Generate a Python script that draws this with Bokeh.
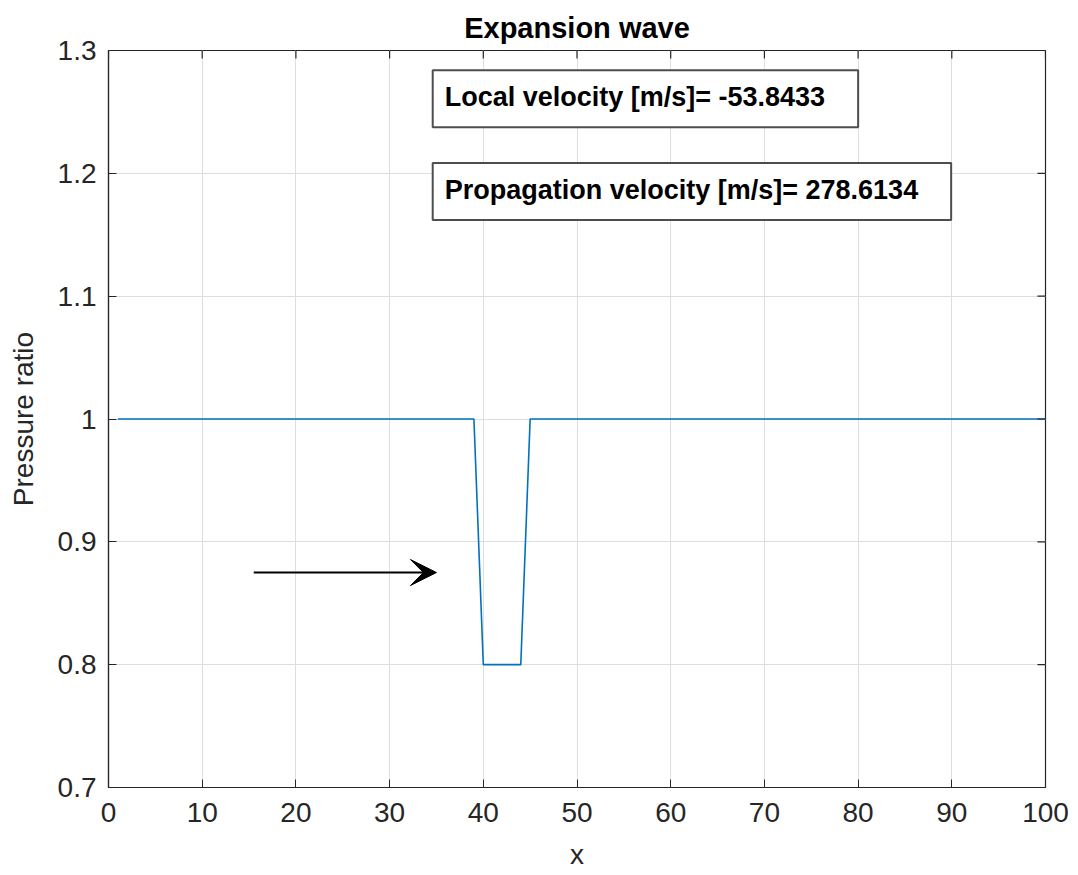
from bokeh.plotting import figure
from bokeh.models import (Range1d, Label, Arrow, VeeHead,
                          FixedTicker, ColumnDataSource)
from bokeh.embed import file_html
from bokeh.resources import INLINE

# ---- data ----
x_vals = [1, 39, 40, 44, 45, 100]
pressure_ratio = [1.0, 1.0, 0.8, 0.8, 1.0, 1.0]
x_ticks = [0, 10, 20, 30, 40, 50, 60, 70, 80, 90, 100]
y_ticks = [0.7, 0.8, 0.9, 1.0, 1.1, 1.2, 1.3]
y_tick_labels = ["0.7", "0.8", "0.9", "1", "1.1", "1.2", "1.3"]
arrow_x = [15.5, 35.0]
arrow_y = 0.875
local_velocity = -53.8433
propagation_velocity = 278.6134
box_x = 34.6
box_y = [1.284, 1.2085]

FONT = "Liberation Sans"
AX = "#262626"
X0, X1 = x_ticks[0], x_ticks[-1]
Y0, Y1 = y_ticks[0], y_ticks[-1]

p = figure(width=1078, height=875, output_backend="svg", toolbar_location=None,
           x_range=Range1d(X0, X1), y_range=Range1d(Y0, Y1),
           min_border_left=108, min_border_right=33, min_border_top=50,
           min_border_bottom=88, x_axis_label="x", y_axis_label="Pressure ratio")
p.outline_line_color = AX
p.outline_line_width = 1.2
p.background_fill_color = "white"
p.border_fill_color = "white"

p.title.text = "Expansion wave"
p.title.align = "center"
p.title.text_font = FONT
p.title.text_font_size = "29px"
p.title.text_font_style = "bold"
p.title.text_color = "black"
p.title.offset = 0
p.title.standoff = 13

p.xgrid.ticker = FixedTicker(ticks=x_ticks)
p.ygrid.ticker = FixedTicker(ticks=y_ticks)
p.grid.grid_line_color = "#dedede"
p.grid.grid_line_width = 1

src = ColumnDataSource(dict(x=x_vals, y=pressure_ratio))
p.line("x", "y", source=src, line_color="#0072BD", line_width=1.6)


def style_axis(ax):
    ax.axis_line_color = AX
    ax.axis_line_width = 1.2
    ax.major_tick_line_color = AX
    ax.major_tick_in = 8
    ax.major_tick_out = 0
    ax.minor_tick_line_color = None
    ax.major_label_text_font = FONT
    ax.major_label_text_font_size = "28px"
    ax.major_label_text_color = AX
    ax.axis_label_text_font = FONT
    ax.axis_label_text_font_size = "28px"
    ax.axis_label_text_font_style = "normal"
    ax.axis_label_text_color = AX


xax = p.xaxis[0]
yax = p.yaxis[0]
xax.ticker = FixedTicker(ticks=x_ticks)
yax.ticker = FixedTicker(ticks=y_ticks)
yax.major_label_overrides = {v: s for v, s in zip(y_ticks, y_tick_labels)}
style_axis(xax)
style_axis(yax)
xax.major_label_standoff = 15
yax.major_label_standoff = 12
xax.axis_label_standoff = 14
yax.axis_label_standoff = 16

# inward ticks on the top and right edges of the box
tick_len_x = 8 / 937 * (X1 - X0)
tick_len_y = 8 / 737 * (Y1 - Y0)
p.segment(x0=x_ticks, y0=[Y1] * len(x_ticks), x1=x_ticks,
          y1=[Y1 - tick_len_y] * len(x_ticks), line_color=AX, line_width=1.2)
p.segment(x0=[X1] * len(y_ticks), y0=y_ticks, x1=[X1 - tick_len_x] * len(y_ticks),
          y1=y_ticks, line_color=AX, line_width=1.2)

p.add_layout(Arrow(end=VeeHead(size=26, fill_color="black", line_color="black"),
                   x_start=arrow_x[0], y_start=arrow_y, x_end=arrow_x[1], y_end=arrow_y,
                   line_color="black", line_width=2))

texts = ["Local velocity [m/s]= %.4f" % local_velocity,
         "Propagation velocity [m/s]= %.4f" % propagation_velocity]
for t, yy in zip(texts, box_y):
    p.add_layout(Label(x=box_x, y=yy, text=t, anchor="top_left",
                       text_font=FONT, text_font_size="27px", text_font_style="bold",
                       text_color="black",
                       padding=(12, 33, 12, 15),
                       background_fill_color="white",
                       border_line_color="#4d4d4d", border_line_width=2))

open("out.html", "w").write(file_html(p, INLINE))
